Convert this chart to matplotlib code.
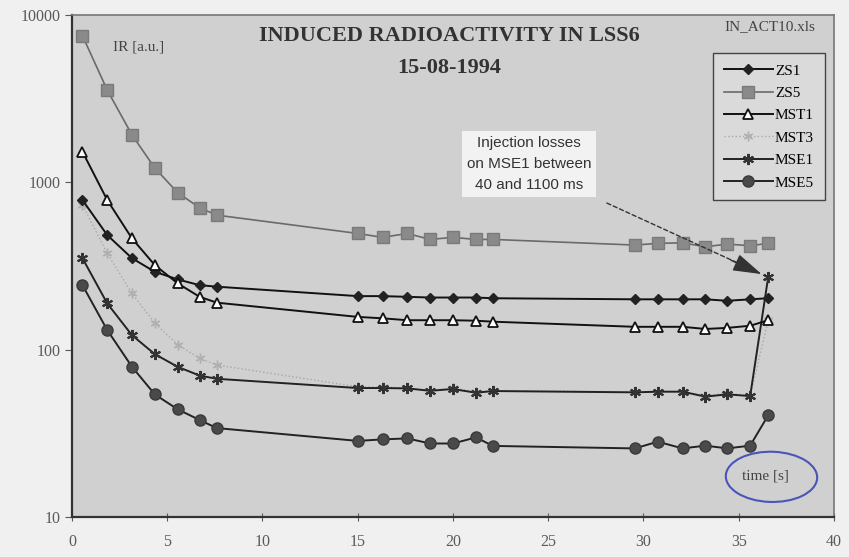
import matplotlib
matplotlib.use("Agg")
import matplotlib.pyplot as plt
from matplotlib.patches import Ellipse

# time [s]
t = [0.55, 1.85, 3.15, 4.35, 5.55, 6.7, 7.6,
     15.0, 16.3, 17.6, 18.8, 20.0, 21.2, 22.1,
     29.55, 30.75, 32.05, 33.25, 34.4, 35.6, 36.55]

zs1 = [784, 484, 352, 292, 263, 243, 238,
       209, 209, 207, 205, 205, 205, 203,
       200, 200, 200, 200, 196, 200, 203]
zs5 = [7520, 3560, 1920, 1217, 867, 705, 637,
       495, 469, 495, 456, 469, 456, 456,
       422, 432, 435, 412, 428, 418, 432]
mst1 = [1524, 784, 462, 320, 249, 207, 191,
        157, 154, 150, 150, 150, 149, 147,
        137, 137, 137, 133, 135, 139, 150]
mst3 = [731, 376, 217, 144, 107, 89, 81,
        60, 60, 59, 57, 59, 56, 57,
        56, 56, 56, 53, 55, 53, 150]
mse1 = [352, 189, 122, 94, 79, 70, 67,
        59, 59, 58.7, 56.8, 58.2, 55.3, 56.6,
        55.6, 56.1, 56.1, 52.4, 54.1, 52.8, 273]
mse5 = [243, 131, 79, 54, 44, 38, 34,
        28.5, 29.1, 29.5, 27.5, 27.5, 29.9, 26.6,
        25.7, 28.2, 25.7, 26.7, 25.7, 26.7, 40.6]

x_ticks = [0, 5, 10, 15, 20, 25, 30, 35, 40]
y_ticks = [10, 100, 1000, 10000]

serif = ["Liberation Serif", "DejaVu Serif"]
sans = ["Liberation Sans", "DejaVu Sans"]
plt.rcParams['font.family'] = serif

fig = plt.figure(figsize=(8.49, 5.57), dpi=100, facecolor="#f0f0f0")
ax = fig.add_axes([0.0848, 0.0718, 0.8975, 0.9012])
ax.set_facecolor("#d0d0d0")

ax.plot(t, zs1, color="#111111", lw=1.4, marker="D", ms=5.5, mfc="#222222", mec="#222222", label="ZS1", zorder=5)
ax.plot(t, zs5, color="#6a6a6a", lw=1.2, marker="s", ms=8, mfc="#8a8a8a", mec="#7a7a7a", label="ZS5", zorder=4)
ax.plot(t, mst1, color="#111111", lw=1.4, marker="^", ms=6.5, mfc="white", mec="#111111", mew=1.3, label="MST1", zorder=5)
ax.plot(t, mst3, color="#a8a8a8", lw=1.0, ls=":", marker=(6, 2, 0), ms=7, mec="#b0b0b0", mew=1.0, label="MST3", zorder=3)
ax.plot(t, mse1, color="#222222", lw=1.4, marker=(6, 2, 0), ms=8, mec="#333333", mew=1.5, label="MSE1", zorder=4)
ax.plot(t, mse5, color="#222222", lw=1.4, marker="o", ms=8, mfc="#4a4a4a", mec="#3a3a3a", label="MSE5", zorder=5)

ax.set_yscale("log")
ax.set_ylim(10, 10000)
ax.set_xlim(0, 40)
ax.set_xticks(x_ticks)
ax.set_xticklabels([str(v) for v in x_ticks])
ax.set_yticks(y_ticks)
ax.set_yticklabels([str(v) for v in y_ticks])
ax.minorticks_off()
ax.tick_params(axis="x", direction="inout", length=6, labelsize=11.5, colors="#5a5a5a", pad=9)
ax.tick_params(axis="y", direction="out", length=5, labelsize=11.5, colors="#5a5a5a", pad=3)

for side in ["left", "bottom"]:
    ax.spines[side].set_color("#333333")
    ax.spines[side].set_linewidth(1.6)
for side in ["top", "right"]:
    ax.spines[side].set_color("#777777")
    ax.spines[side].set_linewidth(1.2)

ax.text(0.495, 0.958, "INDUCED RADIOACTIVITY IN LSS6", transform=ax.transAxes,
        ha="center", va="center", fontsize=16, fontweight="bold", color="#333333")
ax.text(0.495, 0.894, "15-08-1994", transform=ax.transAxes,
        ha="center", va="center", fontsize=16, fontweight="bold", color="#333333")
ax.text(0.087, 0.936, "IR [a.u.]", transform=ax.transAxes, ha="center", va="center",
        fontsize=11, color="#444444")
ax.text(0.916, 0.976, "IN_ACT10.xls", transform=ax.transAxes, ha="center", va="center",
        fontsize=11, color="#444444")
ax.text(0.91, 0.082, "time [s]", transform=ax.transAxes, ha="center", va="center",
        fontsize=11, color="#444444")
ax.add_patch(Ellipse((0.918, 0.08), 0.12, 0.1, angle=-4, transform=ax.transAxes, fill=False,
                     ec="#4a55b5", lw=1.5, zorder=6))

# note box
ax.annotate("Injection losses\non MSE1 between\n40 and 1100 ms",
            xy=(24.0, 1285), ha="center", va="center", fontsize=11, family=sans,
            color="#333333", linespacing=1.65,
            bbox=dict(boxstyle="square,pad=0.3", fc="#f2f2f2", ec="none"), zorder=7)
# dashed shaft + solid head
ax.annotate("", xy=(35.0, 328), xytext=(28.08, 752),
            arrowprops=dict(arrowstyle="-", color="#333333", lw=1.0, ls=(0, (3, 2)),
                            shrinkA=0, shrinkB=0), zorder=7)
ax.annotate("", xy=(36.2, 283), xytext=(34.6, 342),
            arrowprops=dict(arrowstyle="-|>,head_length=1.8,head_width=0.55", color="#333333",
                            lw=1.0, shrinkA=0, shrinkB=0), zorder=7)

leg = ax.legend(loc="upper right", bbox_to_anchor=(0.988, 0.924), fontsize=11,
                handlelength=3.2, labelspacing=0.57, borderpad=0.7, handletextpad=0.15,
                borderaxespad=0, fancybox=False, frameon=True, framealpha=1)
leg.get_frame().set_facecolor("#dadada")
leg.get_frame().set_edgecolor("#444444")

fig.savefig("out.png", dpi=100, facecolor=fig.get_facecolor())
